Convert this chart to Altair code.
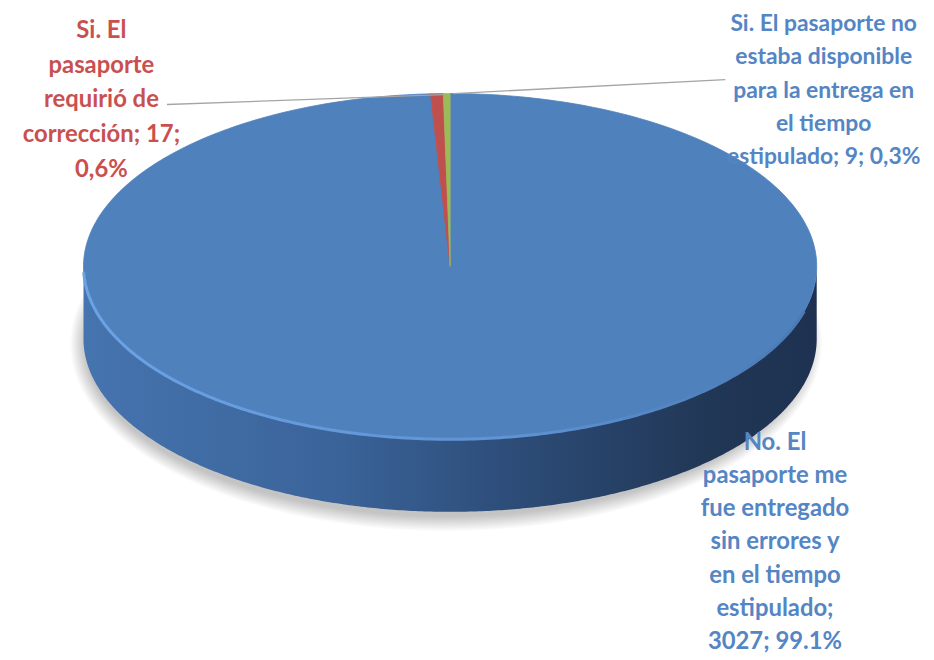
import altair as alt
import numpy as np
import pandas as pd

# ---------------- data ----------------
categories = [
    "No. El pasaporte me fue entregado sin errores y en el tiempo estipulado",
    "Si. El pasaporte requirió de corrección",
    "Si. El pasaporte no estaba disponible para la entrega en el tiempo estipulado",
]
counts = [3027, 17, 9]
label_lines = [
    ["No. El", "pasaporte me", "fue entregado", "sin errores y", "en el tiempo", "estipulado;", "3027; 99.1%"],
    ["Si. El", "pasaporte", "requirió de", "corrección; 17;", "0,6%"],
    ["Si. El pasaporte no", "estaba disponible", "para la entrega en", "el tiempo", "estipulado;  9; 0,3%"],
]
top_colors = ["#4F81BD", "#C0504D", "#9BBB59"]
label_colors = ["#5485C4", "#C9504F", "#5485C4"]

# ---------------- layout (pixels of the page) ----------------
CX, CY = 453.0, 266.0
RX, RY = 369.0, 174.0
DEPTH = 73.0
label_anchor = [(780, 444), (102, 29), (829, 22)]
LINE_H = [33.3, 35.0, 33.5]
FONT_SIZE = [24, 24, 23]
leader_from = [None, (168, 103), (730, 78)]
leader_to = [None, (446, 93), (456, 92)]

W, H = 924, 650
xs = alt.Scale(domain=[8, 8 + W], nice=False, zero=False)
ys = alt.Scale(domain=[8, 8 + H], nice=False, zero=False, reverse=True)
X = lambda f: alt.X(f, type="quantitative", scale=xs, axis=None)
Y = lambda f: alt.Y(f, type="quantitative", scale=ys, axis=None)


def pt(theta_deg, cx=CX, cy=CY, rx=RX, ry=RY):
    t = np.radians(theta_deg)
    return cx + rx * np.sin(t), cy - ry * np.cos(t)


# ---- top slices ----
total = sum(counts)
rows = []
start = 0.0
for cat, c in zip(categories, counts):
    span = 360.0 * c / total
    n = max(4, int(span))
    idx = 0
    rows.append(dict(cat=cat, i=idx, x=CX, y=CY)); idx += 1
    for a in np.linspace(start, start + span, n + 1):
        x, y = pt(a)
        rows.append(dict(cat=cat, i=idx, x=x, y=y)); idx += 1
    rows.append(dict(cat=cat, i=idx, x=CX, y=CY))
    start += span
slices = pd.DataFrame(rows)

cscale = alt.Scale(domain=categories, range=top_colors)
top = alt.Chart(slices).mark_line(filled=True, strokeWidth=0.8).encode(
    x=X("x"), y=Y("y"),
    fill=alt.Fill("cat:N", scale=cscale, legend=None),
    stroke=alt.Stroke("cat:N", scale=cscale, legend=None),
    detail="cat:N", order="i:Q",
)

# ---- side wall (front half) ----
phi = np.linspace(0, np.pi, 361)
side_df = pd.DataFrame({
    "x": CX + RX * np.cos(phi),
    "y": CY + RY * np.sin(phi),
    "y2": CY + RY * np.sin(phi) + DEPTH,
})
side = alt.Chart(side_df).mark_area(
    color=alt.Gradient(
        gradient="linear", x1=0, x2=1, y1=0, y2=0,
        stops=[
            alt.GradientStop(offset=0, color="#4674AF"),
            alt.GradientStop(offset=0.35, color="#3A6399"),
            alt.GradientStop(offset=0.6, color="#2C4B76"),
            alt.GradientStop(offset=0.85, color="#213756"),
            alt.GradientStop(offset=1, color="#1E3150"),
        ],
    )
).encode(x=X("x"), y=Y("y"), y2="y2:Q")

# ---- soft shadow ----
sh_rows = []
for k in range(12):
    grow = 1.3 * k
    for j, a in enumerate(np.linspace(0, 360, 181)):
        x, y = pt(a, CX - 4, CY + DEPTH + 5, RX + grow - 5, RY + grow)
        sh_rows.append(dict(k=k, i=j, x=x, y=y))
sh_df = pd.DataFrame(sh_rows)
shadow = alt.Chart(sh_df).mark_line(filled=True, color="#000000", strokeWidth=0, opacity=0.018).encode(
    x=X("x"), y=Y("y"), detail="k:N", order="i:Q",
)

# ---- rim highlight ----
phi_h = np.linspace(np.radians(15), np.radians(178), 200)
rim_df = pd.DataFrame({
    "x": CX + RX * np.cos(phi_h),
    "y": CY + RY * np.sin(phi_h),
    "i": np.arange(len(phi_h)),
})
rim = alt.Chart(rim_df).mark_line(
    strokeWidth=3,
    stroke=alt.Gradient(
        gradient="linear", x1=0, x2=1, y1=0, y2=0,
        stops=[
            alt.GradientStop(offset=0, color="#6CA3E6"),
            alt.GradientStop(offset=0.6, color="#5E93D4"),
            alt.GradientStop(offset=1, color="#4A7AB5"),
        ],
    ),
).encode(x=X("x"), y=Y("y"), order="i:Q")

# ---- leader lines ----
ll_rows = []
for k in range(3):
    if leader_from[k] is None:
        continue
    ll_rows.append(dict(k=k, i=0, x=leader_from[k][0], y=leader_from[k][1]))
    ll_rows.append(dict(k=k, i=1, x=leader_to[k][0], y=leader_to[k][1]))
leaders = alt.Chart(pd.DataFrame(ll_rows)).mark_line(color="#A5A5A5", strokeWidth=1.3).encode(
    x=X("x"), y=Y("y"), detail="k:N", order="i:Q"
)

# ---- labels ----
lab_rows = []
for k in range(3):
    ax, ay = label_anchor[k]
    for j, line in enumerate(label_lines[k]):
        lab_rows.append(dict(cat=categories[k], t=line, x=ax, y=ay + j * LINE_H[k], fs=FONT_SIZE[k]))
lab_df = pd.DataFrame(lab_rows)
labels = alt.Chart(lab_df).mark_text(
    font="Lato", fontWeight="bold", align="center", baseline="middle"
).encode(
    x=X("x"), y=Y("y"), text="t:N",
    size=alt.Size("fs:Q", scale=None),
    color=alt.Color("cat:N", scale=alt.Scale(domain=categories, range=label_colors), legend=None),
)

chart = alt.layer(shadow, side, top, rim, leaders, labels).properties(
    width=W, height=H, padding=0, autosize=alt.AutoSizeParams(type="none")
).configure_view(stroke=None).resolve_scale(color="independent")

chart.save("out.html", embed_options={"renderer": "svg", "actions": False})
